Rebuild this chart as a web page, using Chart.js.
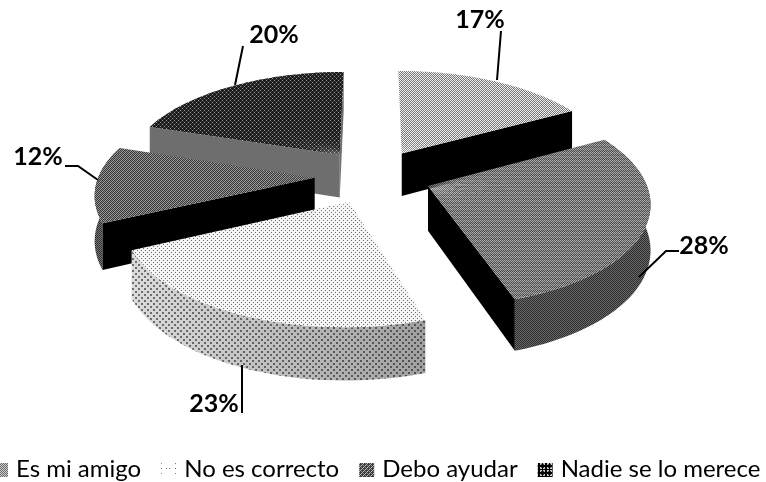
<!DOCTYPE html>
<html>
<head>
<meta charset="utf-8">
<style>
    html, body { margin: 0; padding: 0; background: #fff; }
    canvas { display: block; }
</style>
<script src="https://cdn.jsdelivr.net/npm/chart.js@4/dist/chart.umd.js"></script>
</head>
<body>
<canvas id="myChart" width="766" height="482"></canvas>
<script>
// Data (the legend of the reference has no readable entry for the first slice)
const categories = ['', 'Es mi amigo', 'No es correcto', 'Debo ayudar', 'Nadie se lo merece'];
const percents = [17, 28, 23, 12, 20];
const percentLabels = ['17%', '28%', '23%', '12%', '20%'];

// View of the tilted pie
const view = { cx: 373, cy: 176, a: 216, b: 100, k: 0.14, explode: 0.27, depth: 44 };
const drawOrder = [4, 0, 3, 1, 2];

// Label text position and leader line for each slice
const labelLayout = [
    { x: 480, y: 20, line: [[497, 80], [501, 31]] },
    { x: 704, y: 246, line: [[639, 277], [666, 251], [679, 251]] },
    { x: 214, y: 404, line: [[242, 365], [242, 413]] },
    { x: 38, y: 157, line: [[98, 180], [78, 166], [65, 166]] },
    { x: 274, y: 35, line: [[235, 85], [243, 46]] }
];

// Tile from a grid of grey values, null stays transparent
function tile(rows, alpha) {
    const c = document.createElement('canvas');
    c.width = rows[0].length;
    c.height = rows.length;
    const g = c.getContext('2d');
    rows.forEach((row, y) => row.forEach((v, x) => {
        if (v === null) return;
        g.fillStyle = `rgba(${v},${v},${v},${alpha || 1})`;
        g.fillRect(x, y, 1, 1);
    }));
    return g.createPattern(c, 'repeat');
}

const n = null;
const topFills = [
    tile([[245, 110, 235, 130], [130, 235, 110, 245], [240, 120, 245, 110], [110, 245, 120, 240]]),
    tile([[170, 90, 170, 90], [90, 170, 90, 170], [160, 70, 160, 70], [70, 160, 70, 160]]),
    tile([[240, 250, 240, 110], [250, 240, 250, 240], [240, 110, 240, 250], [250, 240, 250, 240]]),
    tile([[55, 165, 55, 135], [165, 55, 135, 55], [55, 135, 55, 165], [135, 55, 165, 55]]),
    tile([[25, 25, 150, 25], [25, 60, 25, 60], [150, 25, 25, 25], [25, 60, 25, 60]])
];
const wall28 = tile([[45, 105], [105, 45]]);
const wall12 = tile([[50, 120], [120, 40]]);
const wallDots = tile([
    [0, 0, n, n, n, n],
    [0, 0, n, n, n, n],
    [n, n, n, n, n, n],
    [n, n, n, 0, 0, n],
    [n, n, n, 0, 0, n],
    [n, n, n, n, n, n]
], 0.5);

// Legend swatches, coarser than the slice textures
const w = 255;
const legendFills = [
    null,
    tile([[110, 200], [200, 110]]),
    tile([
        [w, w, w, w, w, w, w, w, w, w, w, w, w, w],
        [w, w, w, w, w, w, w, 120, w, w, w, w, w, w],
        [w, w, w, w, w, w, w, w, w, w, w, w, w, w],
        [w, w, w, w, w, w, w, w, w, w, w, w, w, w],
        [w, w, w, w, w, w, w, w, w, w, w, w, w, w],
        [w, w, w, w, w, w, w, w, w, w, w, w, w, w],
        [w, 120, w, w, w, w, w, 90, w, w, w, w, 120, w],
        [w, w, w, w, w, w, w, w, w, w, w, w, w, w],
        [w, w, w, w, w, w, w, w, w, w, w, w, w, w],
        [w, w, w, w, w, w, w, w, w, w, w, w, w, w],
        [w, w, w, w, w, w, w, w, w, w, w, w, w, w],
        [w, w, w, w, w, w, w, 120, w, w, w, w, w, w],
        [w, w, w, w, w, w, w, w, w, w, w, w, w, w],
        [w, w, w, w, w, w, w, w, w, w, w, w, w, w]
    ]),
    tile([[60, 60, 170, 60], [60, 200, 60, 130], [170, 60, 60, 60], [60, 130, 60, 200]]),
    tile([
        [0, 0, 0, 0, 0, 0, 0], [0, 200, 200, 0, 200, 200, 0], [0, 200, 60, 0, 60, 200, 0], [0, 0, 0, 0, 0, 0, 0],
        [0, 0, 0, 0, 0, 0, 0], [0, 200, 60, 0, 60, 200, 0], [0, 200, 200, 0, 200, 200, 0]
    ])
];

// Plane position of a slice point to screen, angle in chart radians
function project(mid, angle, r, z) {
    const u = view.explode * Math.cos(mid) + r * Math.cos(angle);
    const v = -view.explode * Math.sin(mid) - r * Math.sin(angle);
    const d = 1 + view.k * v;
    return {
        x: view.cx + view.a * u / d,
        y: view.cy - view.b * v / d + (z || 0) * view.depth / d
    };
}

function fillPoly(ctx, pts, fill) {
    ctx.beginPath();
    pts.forEach((p, i) => i ? ctx.lineTo(p.x, p.y) : ctx.moveTo(p.x, p.y));
    ctx.closePath();
    ctx.fillStyle = fill;
    ctx.fill();
}

function drawWalls(ctx, i, start, end) {
    const mid = (start + end) / 2;
    const steps = 40;
    const outer = [];
    const under = [];
    for (let s = 0; s <= steps; s++) {
        const t = start + (end - start) * s / steps;
        outer.push(project(mid, t, 1, 0));
        under.unshift(project(mid, t, 1, 1));
    }
    const apex = project(mid, mid, 0, 0);
    const apexLow = project(mid, mid, 0, 1);
    const side = (t, fill) => fillPoly(ctx, [apex, project(mid, t, 1, 0), project(mid, t, 1, 1), apexLow], fill);

    if (i === 0) { side(end, '#000'); }
    if (i === 1) {
        fillPoly(ctx, outer.concat(under), wall28);
        side(end, '#000');
    }
    if (i === 2) {
        const grad = ctx.createLinearGradient(project(mid, end, 1).x, 0, project(mid, start, 1).x, 0);
        grad.addColorStop(0, '#dcdcdc');
        grad.addColorStop(1, '#a0a0a0');
        fillPoly(ctx, outer.concat(under), grad);
        fillPoly(ctx, outer.concat(under), wallDots);
    }
    if (i === 3) {
        fillPoly(ctx, outer.concat(under), wall12);
        side(start, '#000');
    }
    if (i === 4) {
        side(start, '#6e6e6e');
        side(end, '#6e6e6e');
    }
}

// The top of a slice: the library's arc, in short wedges with one affine view each
function drawTop(ctx, arc, i, start, end) {
    const mid = (start + end) / 2;
    const R = arc.outerRadius;
    const count = Math.ceil((end - start) / 0.08);
    const fill = topFills[i];
    for (let s = 0; s < count; s++) {
        const t1 = start + (end - start) * s / count;
        const t2 = start + (end - start) * (s + 1) / count;
        const A = project(mid, mid, 0);
        const B = project(mid, t1, 1);
        const C = project(mid, t2, 1);
        const px = R * Math.cos(t1), py = R * Math.sin(t1);
        const qx = R * Math.cos(t2), qy = R * Math.sin(t2);
        const det = px * qy - py * qx;
        const bx = B.x - A.x, by = B.y - A.y, cx = C.x - A.x, cy = C.y - A.y;
        const ma = (bx * qy - cx * py) / det;
        const mc = (cx * px - bx * qx) / det;
        const mb = (by * qy - cy * py) / det;
        const md = (cy * px - by * qx) / det;
        const me = A.x - ma * arc.x - mc * arc.y;
        const mf = A.y - mb * arc.x - md * arc.y;
        const m = new DOMMatrix([ma, mb, mc, md, me, mf]);
        fill.setTransform(m.inverse());
        ctx.save();
        ctx.transform(ma, mb, mc, md, me, mf);
        arc.startAngle = t1;
        arc.endAngle = s === count - 1 ? t2 : t2 + 0.012;
        arc.circumference = arc.endAngle - arc.startAngle;
        arc.draw(ctx);
        ctx.restore();
    }
    arc.startAngle = start;
    arc.endAngle = end;
    arc.circumference = end - start;
}

function drawLabels(ctx) {
    ctx.strokeStyle = '#000';
    ctx.lineWidth = 2;
    ctx.fillStyle = '#000';
    ctx.font = 'bold 25px Lato';
    ctx.textAlign = 'center';
    ctx.textBaseline = 'middle';
    labelLayout.forEach((item, i) => {
        ctx.beginPath();
        item.line.forEach((p, j) => j ? ctx.lineTo(p[0], p[1]) : ctx.moveTo(p[0], p[1]));
        ctx.stroke();
        ctx.fillText(percentLabels[i], item.x, item.y);
    });
}

// Legend row runs off the left edge in the reference, so it is placed by hand
function drawLegend(ctx) {
    ctx.font = '24px Lato';
    ctx.textAlign = 'left';
    ctx.textBaseline = 'alphabetic';
    let x = -7;
    categories.forEach((text, i) => {
        if (text === '') return;
        ctx.fillStyle = legendFills[i];
        ctx.fillRect(x, 463, 15, 14);
        ctx.fillStyle = '#000';
        ctx.fillText(text, x + 23, 477);
        x += 23 + ctx.measureText(text).width + 20;
    });
}

const tiltedPie = {
    id: 'tiltedPie',
    beforeDatasetsDraw(chart) {
        const ctx = chart.ctx;
        const arcs = chart.getDatasetMeta(0).data;
        drawOrder.forEach(i => {
            const arc = arcs[i];
            const start = arc.startAngle;
            const end = arc.endAngle;
            drawWalls(ctx, i, start, end);
            drawTop(ctx, arc, i, start, end);
        });
        return false;
    },
    afterDraw(chart) {
        const ctx = chart.ctx;
        ctx.save();
        drawLabels(ctx);
        drawLegend(ctx);
        ctx.restore();
    }
};

new Chart(document.getElementById('myChart'), {
    type: 'pie',
    data: {
        labels: categories,
        datasets: [{
            data: percents,
            backgroundColor: topFills,
            borderWidth: 0
        }]
    },
    plugins: [tiltedPie],
    options: {
        responsive: false,
        animation: false,
        events: [],
        plugins: {
            tooltip: { enabled: false },
            legend: { display: false }
        }
    }
});
</script>
</body>
</html>
